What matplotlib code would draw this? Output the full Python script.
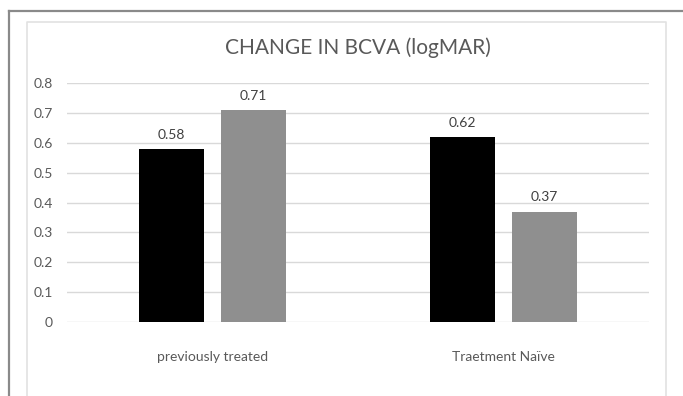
import matplotlib.pyplot as plt
from matplotlib.lines import Line2D
import numpy as np

categories = ["previously treated", "Traetment Naïve"]
series_black = [0.58, 0.62]
series_gray = [0.71, 0.37]
yticks = [0, 0.1, 0.2, 0.3, 0.4, 0.5, 0.6, 0.7, 0.8]
title = "CHANGE IN BCVA (logMAR)"

W, H = 683, 396
fig = plt.figure(figsize=(W / 100, H / 100), dpi=100)
plt.rcParams["font.family"] = ["Lato", "DejaVu Sans"]


def fx(px):
    return px / W


def fy(py):
    return 1 - py / H


# outer screenshot frame and inner chart border
fig.add_artist(Line2D([fx(9), 1], [fy(11), fy(11)], color="#8a8a8a", lw=1.6))
fig.add_artist(Line2D([fx(9), fx(9)], [fy(11), 0], color="#8a8a8a", lw=1.6))
fig.add_artist(Line2D([fx(27), fx(27), fx(665.5), fx(665.5)],
                      [0, fy(22), fy(22), 0], color="#e2e2e2", lw=1.2))

ax = fig.add_axes([fx(67), fy(322), fx(649) - fx(67), fy(83.3) - fy(322)])
x = np.arange(len(categories))
w = 0.226
off = 0.1407
b1 = ax.bar(x - off, series_black, w, color="#000000")
b2 = ax.bar(x + off, series_gray, w, color="#8f8f8f")

for bars, vals in ((b1, series_black), (b2, series_gray)):
    for r, v in zip(bars, vals):
        ax.annotate(f"{v:.2f}", (r.get_x() + r.get_width() / 2, v),
                    xytext=(0, 6), textcoords="offset points",
                    ha="center", va="bottom", fontsize=10, color="#404040")

ax.set_xlim(-0.5, len(categories) - 0.5)
ax.set_ylim(0, 0.8)
ax.set_yticks(yticks)
ax.set_yticklabels([f"{t:g}" for t in yticks])
ax.set_xticks(x)
ax.set_xticklabels(categories)
ax.yaxis.grid(True, color="#d9d9d9", lw=1)
ax.set_axisbelow(True)
for s in ax.spines.values():
    s.set_visible(False)
ax.tick_params(axis="both", length=0, labelsize=10, labelcolor="#595959")
ax.tick_params(axis="y", pad=10)
ax.tick_params(axis="x", pad=21)

fig.text(fx(358), fy(48), title, ha="center", va="center",
         fontsize=15, color="#595959")

fig.savefig("out.png", dpi=100)
